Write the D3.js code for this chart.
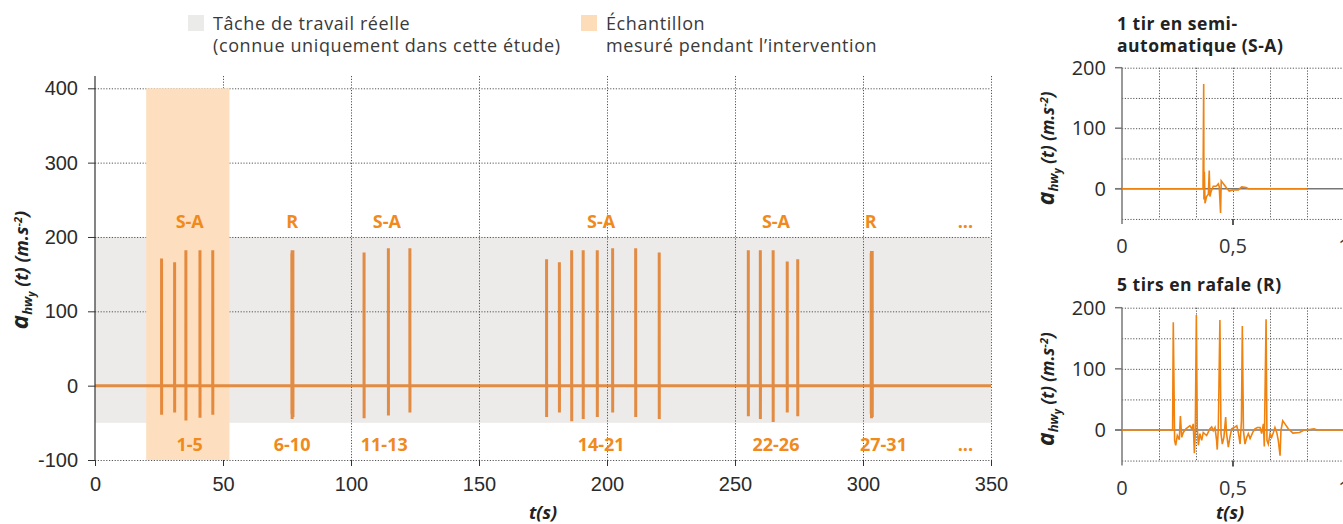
<!DOCTYPE html>
<html><head><meta charset="utf-8">
<script src="https://cdn.jsdelivr.net/npm/d3@7"></script>
<style>
html,body{margin:0;padding:0;background:#fff;}
svg{display:block;font-family:"Open Sans",sans-serif;}
</style></head><body>
<svg id="c" width="1343" height="524"></svg>
<script>
// ---------- DATA ----------
// main chart : 31 shots (time in s, peak and trough in m.s-2)
const shotTimes   = [26.0,31.1,35.5,41.0,46.0, 76.9,77.0,77.1,77.2,77.3, 105.1,114.6,123.0,
                     176.4,181.4,186.2,190.7,196.2,202.2,211.2,220.4,
                     255.2,259.9,264.9,270.4,274.5, 303.2,303.3,303.4,303.5,303.6];
const shotPeaks   = [171,166,182,182,182, 178,182,180,172,182, 179,185,185,
                     170,166,182,182,182,185,185,179,
                     182,182,182,167,170, 178,181,180,172,181];
const shotTroughs = [-39,-36,-47,-43,-39, -38,-45,-40,-36,-42, -44,-40,-36,
                     -42,-36,-48,-45,-42,-36,-42,-45,
                     -41,-45,-49,-36,-41, -38,-44,-40,-36,-42];
const modeLabels   = ["S-A","R","S-A","S-A","S-A","R","..."];
const modeLabelT   = [37, 77, 114, 197.7, 266, 303, 340];
const rangeLabels  = ["1-5","6-10","11-13","14-21","22-26","27-31","..."];
const rangeLabelT  = [37, 77, 113, 197.7, 266, 308, 340];
const mainXTicks   = [0,50,100,150,200,250,300,350];
const mainYTicks   = [-100,0,100,200,300,400];
const taskBand     = [-50, 200];
const sampleWindow = [20, 52.5];
const legendItems  = [["Tâche de travail réelle","(connue uniquement dans cette étude)"],
                      ["Échantillon","mesuré pendant l’intervention"]];

// small charts : single shot and burst of 5 (t in s, a in m.s-2)
const semiSignal = [[0,0],[0.365,0],[0.368,173],[0.369,-18],[0.371,28],[0.374,-24],[0.381,-13],
  [0.389,-9],[0.393,30],[0.396,-13],[0.401,-5],[0.411,4],[0.423,4],[0.429,6],[0.434,8],[0.438,3],
  [0.444,-40],[0.447,13],[0.453,10],[0.461,6],[0.471,1],[0.483,-4],[0.501,-2],[0.524,-2],
  [0.539,3],[0.559,2],[0.569,0],[0.833,0]];
const rafaleSignal = [[0,0],[0.228,0],[0.231,176],[0.237,-17],[0.242,-25],[0.249,-9],[0.258,-16],
  [0.263,23],[0.269,-12],[0.276,-4],[0.288,2],[0.306,7],[0.314,2],[0.321,10],[0.326,-38],[0.330,-6],
  [0.335,188],[0.339,4],[0.344,-25],[0.351,-6],[0.359,-17],[0.366,-4],[0.381,-9],[0.396,2],
  [0.404,5],[0.411,-1],[0.419,4],[0.426,-17],[0.429,-32],[0.434,4],[0.441,180],[0.446,-6],
  [0.452,-23],[0.459,-12],[0.467,21],[0.471,-6],[0.479,-28],[0.486,-12],[0.494,2],[0.505,4],
  [0.517,7],[0.524,-4],[0.532,-23],[0.538,15],[0.542,170],[0.547,-1],[0.554,-23],[0.562,-12],
  [0.569,-6],[0.577,-14],[0.589,-4],[0.599,2],[0.610,4],[0.622,4],[0.629,-6],[0.637,10],
  [0.641,-27],[0.649,181],[0.653,-17],[0.659,-23],[0.667,-6],[0.674,-12],[0.682,-4],[0.689,4],
  [0.697,-4],[0.704,-17],[0.712,-42],[0.716,-1],[0.724,15],[0.734,10],[0.749,2],[0.770,-5],
  [0.800,-4],[0.820,0],[0.850,1],[0.865,2],[0.880,0],[1.0,0]];
const miniTitles   = [["1 tir en semi-","automatique (S-A)"],["5 tirs en rafale (R)"]];
const miniXTicks   = [0, 0.5, 1];
const miniXLabels  = ["0","0,5","1"];
const miniYTicks   = [0,100,200];
const miniHGrid    = [-50,50,100,150,200];
const miniVGrid    = [0.1667,0.3333,0.5,0.6667,0.8333,1];

// ---------- DRAW ----------
const svg = d3.select("#c");
const ORANGE = "#f08a1c", LINE = "#e07a26", TXT = "#2b2b2b";
const fmt = v => String(v);   // plain hyphen for negatives

// main scales
const x = d3.scaleLinear().domain([0,350]).range([95,991]);
const y = d3.scaleLinear().domain([-100,400]).range([460,88.3]);
const yTop = 76;

// legend
const legColors = ["#ebebea","#fddcb9"];
const legX = [188, 581];
legendItems.forEach((lines,i)=>{
  svg.append("rect").attr("x",legX[i]).attr("y",15).attr("width",16).attr("height",16).attr("fill",legColors[i]);
  lines.forEach((l,j)=> svg.append("text").attr("x",legX[i]+25).attr("y",30+22*j)
    .attr("fill","#3a3a3a").style("font-size","18px").style("letter-spacing","0.6px").text(l));
});

// task band
svg.append("rect").attr("x",x(0)).attr("width",x(350)-x(0))
  .attr("y",y(taskBand[1])).attr("height",y(taskBand[0])-y(taskBand[1])).attr("fill","#ecebea");

// grid
const grid = svg.append("g").attr("stroke","#555").attr("stroke-width",1).attr("stroke-dasharray","1.2,1.6");
mainYTicks.filter(v=>v!==0).forEach(v=>{
  grid.append("line").attr("x1",x(0)).attr("x2",x(350)).attr("y1",y(v)+0.5).attr("y2",y(v)+0.5);
});
mainXTicks.filter(v=>v!==0).forEach(v=>{
  grid.append("line").attr("x1",x(v)+0.5).attr("x2",x(v)+0.5).attr("y1",yTop).attr("y2",y(-100));
});

// sample window
svg.append("rect").attr("x",x(sampleWindow[0])).attr("width",x(sampleWindow[1])-x(sampleWindow[0]))
  .attr("y",y(400)).attr("height",y(-100)-y(400)).attr("fill","#fddfbf");

// signal
const pts = [[0,0]];
shotTimes.forEach((t,i)=>{
  pts.push([t-0.01,0],[t,shotPeaks[i]],[t+0.02,shotTroughs[i]],[t+0.04,0]);
});
pts.push([350,0]);
const line = d3.line().x(d=>x(d[0])).y(d=>y(d[1]));
svg.append("path").datum(pts).attr("d",line).attr("fill","none")
  .attr("stroke",LINE).attr("stroke-width",3).attr("stroke-opacity",0.85).attr("stroke-linejoin","miter");

// axes
const yAx = svg.append("g").attr("transform",`translate(${x(0)},0)`)
  .call(d3.axisLeft(y).tickValues(mainYTicks).tickFormat(fmt).tickSize(7).tickPadding(10).tickSizeOuter(0));
yAx.select(".domain").remove();
yAx.selectAll("text").style("font-size","20px").attr("fill",TXT);
yAx.selectAll("line").attr("stroke","#333");
svg.append("line").attr("x1",x(0)).attr("x2",x(0)).attr("y1",yTop).attr("y2",y(-100)).attr("stroke","#333").attr("stroke-width",1.2);

const xAx = svg.append("g").attr("transform",`translate(0,${y(-100)})`)
  .call(d3.axisBottom(x).tickValues(mainXTicks).tickFormat(fmt).tickSize(6).tickPadding(11).tickSizeOuter(0));
xAx.select(".domain").remove();
xAx.selectAll("text").style("font-size","20px").attr("fill",TXT);
xAx.selectAll("line").attr("stroke","#333");

// group labels
modeLabels.forEach((s,i)=>{
  svg.append("text").attr("x",x(modeLabelT[i])).attr("y",228).attr("text-anchor","middle")
    .attr("fill",ORANGE).style("font-weight","bold").style("font-size","18px").text(s);
});
rangeLabels.forEach((s,i)=>{
  svg.append("text").attr("x",x(rangeLabelT[i])).attr("y",451).attr("text-anchor","middle")
    .attr("fill",ORANGE).style("font-weight","bold").style("font-size","18px").text(s);
});

// axis titles
function yTitle(cx, cy, big, small){
  const t = svg.append("text").attr("transform",`translate(${cx},${cy}) rotate(-90)`)
    .attr("text-anchor","middle").attr("fill","#222")
    .style("font-weight","bold").style("font-style","italic");
  t.append("tspan").style("font-size",big+"px").text("a");
  t.append("tspan").style("font-size",Math.round(small*0.7)+"px").attr("dy",4).text("hw");
  t.append("tspan").style("font-size",Math.round(small*0.55)+"px").attr("dy",3).text("y");
  t.append("tspan").style("font-size",small+"px").attr("dy",-7).text("\u00a0(t) (m.s");
  t.append("tspan").style("font-size",Math.round(small*0.6)+"px").attr("dy",-6).text("-2");
  t.append("tspan").style("font-size",small+"px").attr("dy",6).text(")");
}
yTitle(28, 270, 24, 18);
svg.append("text").attr("x",543).attr("y",519).attr("text-anchor","middle").attr("fill","#222")
  .style("font-weight","bold").style("font-style","italic").style("font-size","18px").text("t(s)");

// ---------- mini charts ----------
function mini(data, y200, y0, titles, titleY, showXTitle){
  const mx = d3.scaleLinear().domain([0,1]).range([1122,1344]);
  const my = d3.scaleLinear().domain([0,200]).range([y0,y200]);
  const g = svg.append("g");
  titles.forEach((s,i)=> g.append("text").attr("x",1117).attr("y",titleY+22*i).attr("fill","#222")
    .style("font-weight","bold").style("font-size","17.5px").style("letter-spacing","0.5px").text(s));
  const gr = g.append("g").attr("stroke","#555").attr("stroke-dasharray","1.2,1.6");
  miniHGrid.forEach(v=> gr.append("line").attr("x1",mx(0)).attr("x2",1343).attr("y1",my(v)+0.5).attr("y2",my(v)+0.5));
  miniVGrid.forEach(v=> gr.append("line").attr("x1",mx(v)+0.5).attr("x2",mx(v)+0.5).attr("y1",my(200)).attr("y2",my(-50)));
  // zero line and y axis
  g.append("line").attr("x1",mx(0)-7).attr("x2",1343).attr("y1",my(0)).attr("y2",my(0)).attr("stroke","#777").attr("stroke-width",1.5);
  g.append("line").attr("x1",mx(0)).attr("x2",mx(0)).attr("y1",my(200)).attr("y2",my(-50)+5).attr("stroke","#777").attr("stroke-width",1.5);
  miniYTicks.forEach(v=>{
    g.append("line").attr("x1",mx(0)-7).attr("x2",mx(0)).attr("y1",my(v)).attr("y2",my(v)).attr("stroke","#777").attr("stroke-width",1.5);
    g.append("text").attr("x",mx(0)-16).attr("y",my(v)).attr("dy","0.35em").attr("text-anchor","end")
      .attr("fill",TXT).style("font-size","20px").text(fmt(v));
  });
  miniXTicks.forEach((v,i)=>{
    if(v>0) g.append("line").attr("x1",mx(v)).attr("x2",mx(v)).attr("y1",my(-50)).attr("y2",my(-50)+6).attr("stroke","#222").attr("stroke-width",1.5);
    g.append("text").attr("x",mx(v)).attr("y",my(-50)+34).attr("text-anchor","middle")
      .attr("fill","#333").style("font-size","20px").text(miniXLabels[i]);
  });
  const l = d3.line().x(d=>mx(d[0])).y(d=>my(d[1]));
  g.append("path").datum(data).attr("d",l).attr("fill","none").attr("stroke","#f0820f").attr("stroke-width",1.6);
  // y title
  const cy = (my(200)+my(-50))/2 + 5;
  const t = svg.append("text").attr("transform",`translate(1054,${cy}) rotate(-90)`)
    .attr("text-anchor","middle").attr("fill","#222").style("font-weight","bold").style("font-style","italic");
  t.append("tspan").style("font-size","23px").text("a");
  t.append("tspan").style("font-size","13px").attr("dy",4).text("hw");
  t.append("tspan").style("font-size","10px").attr("dy",3).text("y");
  t.append("tspan").style("font-size","17px").attr("dy",-7).text("\u00a0(t) (m.s");
  t.append("tspan").style("font-size","11px").attr("dy",-6).text("-2");
  t.append("tspan").style("font-size","17px").attr("dy",6).text(")");
  if(showXTitle) svg.append("text").attr("x",1230).attr("y",519).attr("text-anchor","middle").attr("fill","#222")
    .style("font-weight","bold").style("font-style","italic").style("font-size","18px").text("t(s)");
}
mini(semiSignal, 67.7, 188.7, miniTitles[0], 30, false);
mini(rafaleSignal, 307.7, 430, miniTitles[1], 291, true);
</script>
</body></html>
